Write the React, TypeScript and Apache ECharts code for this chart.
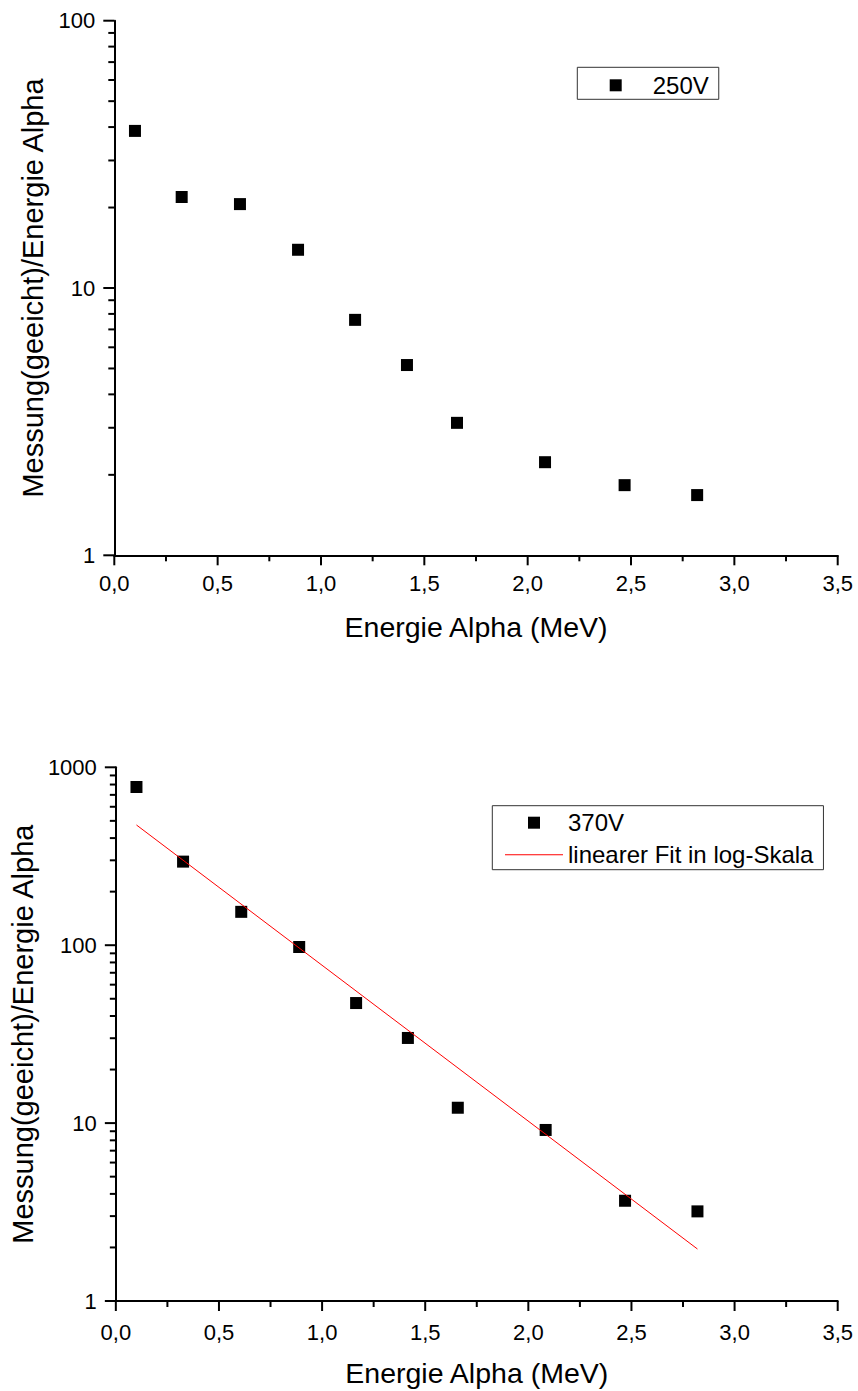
import React, { useEffect, useRef } from "react";
import * as echarts from "echarts";

const energies = [0.1, 0.326, 0.608, 0.889, 1.165, 1.416, 1.658, 2.084, 2.469, 2.82];
const values250V = [38.7, 21.9, 20.6, 13.9, 7.6, 5.15, 3.13, 2.23, 1.83, 1.68];
const values370V = [775, 295, 154, 97.7, 47.3, 30.1, 12.2, 9.15, 3.66, 3.19];
const fitX = [0.1, 2.82];
const fitY = [474, 1.96];

const xMajorTicks = [0, 0.5, 1, 1.5, 2, 2.5, 3, 3.5];
const xMinorTicks = [0.25, 0.75, 1.25, 1.75, 2.25, 2.75, 3.25];
const yMajorTicksTop = [1, 10, 100];
const yMajorTicksBottom = [1, 10, 100, 1000];
const yMinorTicksTop = [2, 3, 4, 5, 6, 7, 8, 9, 20, 30, 40, 50, 60, 70, 80, 90];
const yMinorTicksBottom = [
  2, 3, 4, 5, 6, 7, 8, 9, 20, 30, 40, 50, 60, 70, 80, 90, 200, 300, 400, 500, 600, 700, 800, 900,
];

const FONT = "Liberation Sans";
const SQUARE = "path://M0,0H10V10H0Z";
const LINE_ICON = "path://M0,0H58V1H0Z";

export default function App() {
  const ref = useRef<HTMLDivElement>(null);
  useEffect(() => {
    if (!ref.current) return;
    const chart = echarts.init(ref.current, null, { renderer: "svg" });
    const xAxisBase = (gridIndex: number, labelMargin: number) => ({
      type: "value",
      gridIndex,
      min: 0,
      max: 3.5,
      interval: 0.5,
      name: "Energie Alpha (MeV)",
      nameLocation: "middle",
      nameGap: 57,
      nameTextStyle: { fontFamily: FONT, fontSize: 28.5, color: "#000" },
      axisLine: { show: true, onZero: false, lineStyle: { color: "#000", width: 2 } },
      axisTick: { show: false },
      minorTick: { show: false },
      splitLine: { show: false },
      axisLabel: {
        margin: labelMargin,
        fontFamily: FONT,
        fontSize: 22,
        color: "#000",
        formatter: (v: number) => v.toFixed(1).replace(".", ","),
      },
    });
    const yAxisBase = (gridIndex: number, max: number, nameGap: number) => ({
      type: "log",
      logBase: 10,
      gridIndex,
      min: 1,
      max,
      interval: 1,
      name: "Messung(geeicht)/Energie Alpha",
      nameLocation: "middle",
      nameGap,
      nameTextStyle: { fontFamily: FONT, fontSize: 29, color: "#000" },
      axisLine: { show: true, onZero: false, lineStyle: { color: "#000", width: 2 } },
      axisTick: { show: false },
      minorTick: { show: false },
      splitLine: { show: false },
      axisLabel: {
        margin: 19,
        fontFamily: FONT,
        fontSize: 22,
        color: "#000",
        formatter: (v: number) => String(Math.round(v)),
      },
    });
    // tick marks drawn through the axes' own scales
    const yTickSeries = (idx: number, ticks: number[], len: number) => ({
      type: "custom",
      coordinateSystem: "cartesian2d",
      xAxisIndex: idx,
      yAxisIndex: idx,
      silent: true,
      clip: false,
      z: 10,
      encode: { x: 0, y: 1 },
      data: ticks.map((t) => [0, t]),
      renderItem: (params: any, api: any) => {
        const p = api.coord([api.value(0), api.value(1)]);
        return {
          type: "line",
          shape: { x1: p[0] - len, y1: p[1], x2: p[0], y2: p[1] },
          style: { stroke: "#000", lineWidth: 2 },
        };
      },
    });
    const xTickSeries = (idx: number, ticks: number[], len: number) => ({
      type: "custom",
      coordinateSystem: "cartesian2d",
      xAxisIndex: idx,
      yAxisIndex: idx,
      silent: true,
      clip: false,
      z: 10,
      encode: { x: 0, y: 1 },
      data: ticks.map((t) => [t, 1]),
      renderItem: (params: any, api: any) => {
        const p = api.coord([api.value(0), api.value(1)]);
        return {
          type: "line",
          shape: { x1: p[0], y1: p[1], x2: p[0], y2: p[1] + len },
          style: { stroke: "#000", lineWidth: 2 },
        };
      },
    });
    const legendBase = {
      orient: "vertical",
      itemHeight: 12,
      itemGap: 8,
      borderColor: "#333",
      borderWidth: 1,
      symbolKeepAspect: true,
      backgroundColor: "#fff",
      textStyle: { fontFamily: FONT, fontSize: 24, color: "#000" },
    };
    chart.setOption({
      animation: false,
      backgroundColor: "#fff",
      grid: [
        { left: 114.3, top: 20.7, width: 723.4, height: 534.6, containLabel: false },
        { left: 114.3, top: 767.3, width: 723.4, height: 533.7, containLabel: false },
      ],
      xAxis: [xAxisBase(0, 17), xAxisBase(1, 20)],
      yAxis: [yAxisBase(0, 100, 64), yAxisBase(1, 1000, 78)],
      legend: [
        {
          ...legendBase,
          itemWidth: 64,
          left: 577.3,
          top: 67.3,
          padding: [6, 10, 2, 32.4],
          data: [{ name: "250V", icon: SQUARE }],
        },
        {
          ...legendBase,
          itemWidth: 58,
          left: 492.3,
          top: 805.7,
          padding: [5, 10, 3, 12.7],
          data: [
            { name: "370V", icon: SQUARE },
            { name: "linearer Fit in log-Skala", icon: LINE_ICON },
          ],
        },
      ],
      series: [
        {
          name: "250V",
          type: "scatter",
          xAxisIndex: 0,
          yAxisIndex: 0,
          symbol: "rect",
          symbolSize: 12,
          itemStyle: { color: "#000", opacity: 1 },
          data: energies.map((e, i) => [e, values250V[i]]),
        },
        {
          name: "370V",
          type: "scatter",
          xAxisIndex: 1,
          yAxisIndex: 1,
          symbol: "rect",
          symbolSize: 12,
          itemStyle: { color: "#000", opacity: 1 },
          data: energies.map((e, i) => [e, values370V[i]]),
        },
        {
          name: "linearer Fit in log-Skala",
          type: "line",
          xAxisIndex: 1,
          yAxisIndex: 1,
          symbol: "none",
          showSymbol: false,
          lineStyle: { color: "#ff0000", width: 1 },
          itemStyle: { color: "#ff0000" },
          data: fitX.map((x, i) => [x, fitY[i]]),
        },
        xTickSeries(0, xMajorTicks, 10),
        xTickSeries(0, xMinorTicks, 6),
        xTickSeries(1, xMajorTicks, 10),
        xTickSeries(1, xMinorTicks, 6),
        yTickSeries(0, yMajorTicksTop, 11),
        yTickSeries(0, yMinorTicksTop, 6),
        yTickSeries(1, yMajorTicksBottom, 11),
        yTickSeries(1, yMinorTicksBottom, 6),
      ],
    });
    return () => chart.dispose();
  }, []);
  return (
    <div
      ref={ref}
      style={{ position: "absolute", left: 0, top: 0, width: 858, height: 1391, background: "#fff" }}
    />
  );
}
